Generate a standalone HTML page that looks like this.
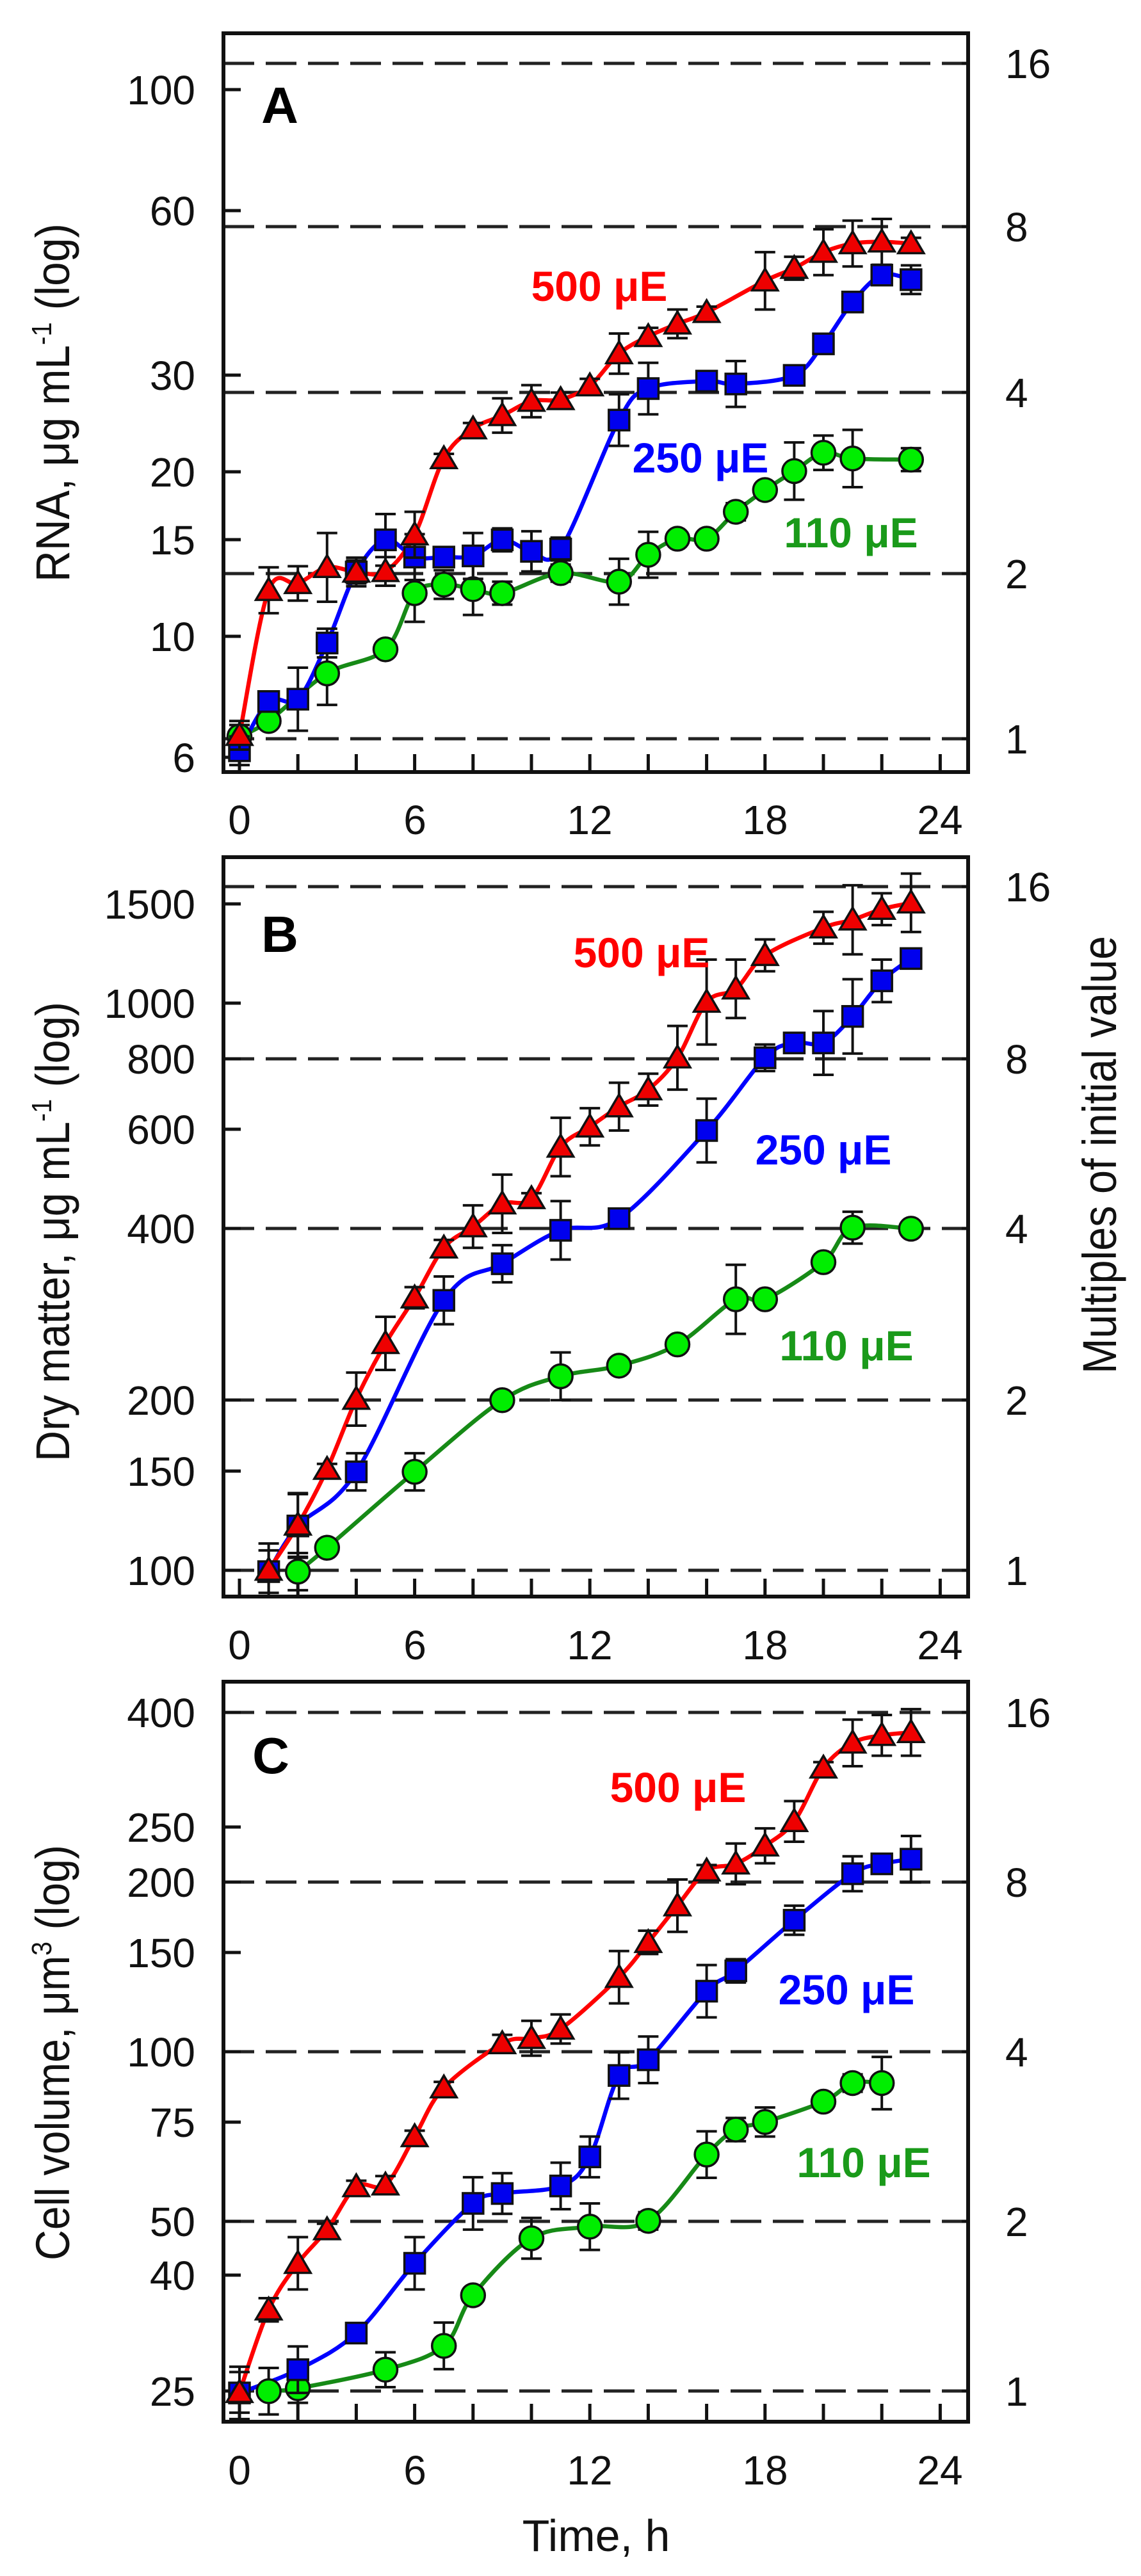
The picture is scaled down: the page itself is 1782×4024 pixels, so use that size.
<!DOCTYPE html>
<html><head><meta charset="utf-8"><style>
html,body{margin:0;padding:0;background:#fff;}
svg{display:block;}
text{font-family:"Liberation Sans",sans-serif;}
</style></head><body>
<svg id="s" width="1782" height="4024" viewBox="0 0 1782 4024" xmlns="http://www.w3.org/2000/svg">
<rect width="1782" height="4024" fill="#fff"/>
<g id="plots"></g>
<g font-size="64" fill="#111">
<g text-anchor="end">
<text x="305" y="163">100</text><text x="305" y="352">60</text><text x="305" y="609">30</text>
<text x="305" y="760">20</text><text x="305" y="866">15</text><text x="305" y="1017">10</text><text x="305" y="1206">6</text>
<text x="305" y="1435">1500</text><text x="305" y="1590">1000</text><text x="305" y="1677">800</text><text x="305" y="1787">600</text>
<text x="305" y="1942">400</text><text x="305" y="2210">200</text><text x="305" y="2321">150</text><text x="305" y="2476">100</text>
<text x="305" y="2698">400</text><text x="305" y="2877">250</text><text x="305" y="2963">200</text><text x="305" y="3073">150</text>
<text x="305" y="3228">100</text><text x="305" y="3338">75</text><text x="305" y="3493">50</text><text x="305" y="3577">40</text><text x="305" y="3758">25</text>
</g>
<g text-anchor="start">
<text x="1570" y="122">16</text><text x="1570" y="377">8</text><text x="1570" y="636">4</text><text x="1570" y="919">2</text><text x="1570" y="1177">1</text>
<text x="1570" y="1408">16</text><text x="1570" y="1677">8</text><text x="1570" y="1942">4</text><text x="1570" y="2210">2</text><text x="1570" y="2476">1</text>
<text x="1570" y="2698">16</text><text x="1570" y="2963">8</text><text x="1570" y="3228">4</text><text x="1570" y="3493">2</text><text x="1570" y="3758">1</text>
</g>
<g text-anchor="middle">
<text x="374" y="1303">0</text><text x="648" y="1303">6</text><text x="921" y="1303">12</text><text x="1195" y="1303">18</text><text x="1468" y="1303">24</text>
<text x="374" y="2592">0</text><text x="648" y="2592">6</text><text x="921" y="2592">12</text><text x="1195" y="2592">18</text><text x="1468" y="2592">24</text>
<text x="374" y="3881">0</text><text x="648" y="3881">6</text><text x="921" y="3881">12</text><text x="1195" y="3881">18</text><text x="1468" y="3881">24</text>
<text x="931" y="3985" font-size="70">Time, h</text>
</g>
<g font-size="74">
<text transform="translate(108,909) rotate(-90)" textLength="560" lengthAdjust="spacingAndGlyphs">RNA, μg mL<tspan font-size="44" dy="-28">-1</tspan><tspan dy="28"> (log)</tspan></text>
<text transform="translate(108,2283) rotate(-90)" textLength="718" lengthAdjust="spacingAndGlyphs">Dry matter, μg mL<tspan font-size="44" dy="-28">-1</tspan><tspan dy="28"> (log)</tspan></text>
<text transform="translate(108,3531) rotate(-90)" textLength="649" lengthAdjust="spacingAndGlyphs">Cell volume, μm<tspan font-size="44" dy="-28">3</tspan><tspan dy="28"> (log)</tspan></text>
<text transform="translate(1743,2146) rotate(-90)" textLength="684" lengthAdjust="spacingAndGlyphs">Multiples of initial value</text>
</g>
<g font-weight="bold" font-size="66" text-anchor="middle">
<text x="437" y="192" fill="#000" font-size="80">A</text>
<text x="437" y="1487" fill="#000" font-size="80">B</text>
<text x="423" y="2770" fill="#000" font-size="80">C</text>
<text x="936" y="470" fill="#f00">500 μE</text>
<text x="1094" y="738" fill="#00f">250 μE</text>
<text x="1329" y="855" fill="#1a9a1a">110 μE</text>
<text x="1002" y="1511" fill="#f00">500 μE</text>
<text x="1286" y="1819" fill="#00f">250 μE</text>
<text x="1322" y="2125" fill="#1a9a1a">110 μE</text>
<text x="1059" y="2815" fill="#f00">500 μE</text>
<text x="1322" y="3131" fill="#00f">250 μE</text>
<text x="1349" y="3401" fill="#1a9a1a">110 μE</text>
</g>
</g>
</svg>
<script>
var NS="http://www.w3.org/2000/svg";
var G=document.getElementById("plots");
function el(t,a){var e=document.createElementNS(NS,t);for(var k in a)e.setAttribute(k,a[k]);G.appendChild(e);return e;}
function X(t){return 374+t*45.6;}
var panels=[
 {top:52,bot:1206,off:0,s:1.117,ticks:[140,329,586,737,843,994,1183],dash:[99,354,613,896,1154],
  R:[[0,1283,25],[1,1030,40],[2,1018,30],[3,990,60],[4,998,20],[5,997,25],[6,933,40],[7,800,8],[8,748,10],[9,725,30],[10,700,28],[11,697,12],[12,673,12],[13,617,35],[14,587,15],[15,565,25],[16,545,10],[18,490,50],[19,468,20],[20,440,40],[21,425,40],[22,422,40],[23,425,10]],
  B:[[0,1310,25],[1,1224,10],[2,1220,55],[3,1122,25],[4,998,25],[5,942,45],[6,972,40],[7,972,15],[8,970,40],[9,942,20],[10,962,35],[11,958,20],[13,733,45],[14,678,45],[16,665,10],[17,670,40],[19,655,15],[20,600,10],[21,527,10],[22,480,10],[23,488,25]],
  Gr:[[0,1285,20],[1,1258,10],[3,1175,55],[5,1133,0],[6,1035,50],[7,1020,25],[8,1028,45],[9,1035,20],[11,1000,15],[13,1015,40],[14,968,40],[15,940,10],[16,940,10],[17,893,15],[18,855,10],[19,822,50],[20,790,30],[21,800,50],[23,802,20]]},
 {top:1339,bot:2494,off:1300,s:1.206,ticks:[1412,1567,1654,1764,1919,2187,2298,2453],dash:[1385,1654,1919,2187,2453],
  R:[[1,1390,50],[2,1305,60],[3,1200,10],[4,1068,50],[5,963,50],[6,877,20],[7,783,15],[8,743,40],[9,700,55],[10,690,10],[11,593,55],[12,555,35],[13,517,45],[14,485,30],[15,425,60],[16,320,80],[17,295,55],[18,232,30],[20,180,30],[21,165,65],[22,145,30],[23,133,55]],
  B:[[1,1393,40],[2,1307,60],[4,1205,35],[7,882,45],[9,813,35],[11,750,55],[13,728,10],[16,562,60],[18,425,25],[19,397,10],[20,397,60],[21,347,70],[22,280,40],[23,238,10]],
  Gr:[[2,1393,35],[3,1348,10],[6,1205,35],[9,1070,10],[11,1025,45],[13,1005,10],[15,965,10],[17,880,65],[18,880,10],[20,810,10],[21,745,30],[23,747,10]]},
 {top:2627,bot:3783,off:2600,s:1.101,ticks:[2675,2854,2940,3050,3205,3315,3470,3554,3735],dash:[2675,2940,3205,3470,3735],
  R:[[0,1252,35],[1,1110,20],[2,1030,45],[3,972,10],[4,898,10],[5,895,15],[6,812,10],[7,728,10],[9,652,15],[10,643,30],[11,627,25],[13,538,45],[14,478,20],[15,415,45],[16,355,10],[17,343,35],[18,312,30],[19,270,35],[20,178,10],[21,135,40],[22,122,35],[23,117,40]],
  B:[[0,1253,45],[2,1213,40],[4,1150,10],[6,1030,45],[8,927,45],[9,910,35],[11,897,40],[12,847,35],[13,707,40],[14,680,40],[16,562,45],[17,527,20],[19,440,25],[21,360,30],[22,343,10],[23,335,40]],
  Gr:[[1,1250,40],[2,1245,25],[5,1213,30],[7,1172,40],[8,1085,10],[10,987,35],[12,967,40],[14,957,15],[16,843,40],[17,800,20],[18,787,25],[20,752,10],[21,720,15],[22,720,45]]}
];
function spline(p){var d="M"+p[0][0]+","+p[0][1];for(var i=0;i<p.length-1;i++){var p0=p[i-1]||p[i],p1=p[i],p2=p[i+1],p3=p[i+2]||p2;
 var c1x=p1[0]+(p2[0]-p0[0])/6,c1y=p1[1]+(p2[1]-p0[1])/6,c2x=p2[0]-(p3[0]-p1[0])/6,c2y=p2[1]-(p3[1]-p1[1])/6;
 d+=" C"+c1x+","+c1y+" "+c2x+","+c2y+" "+p2[0]+","+p2[1];}return d;}
panels.forEach(function(P){
 P.dash.forEach(function(y){el("line",{x1:349,x2:1512,y1:y,y2:y,stroke:"#222","stroke-width":5,"stroke-dasharray":"48,18"});});
 P.ticks.forEach(function(y){el("line",{x1:347,x2:376,y1:y,y2:y,stroke:"#111","stroke-width":5});});
 for(var t=0;t<=24;t+=2){el("line",{x1:X(t),x2:X(t),y1:P.bot,y2:P.bot-28,stroke:"#111","stroke-width":5});}
 P.dash.forEach(function(y){el("line",{x1:1502,x2:1512,y1:y,y2:y,stroke:"#111","stroke-width":5});});
 var series=[[P.Gr,"#168a16","c","#00ee00"],[P.B,"#0000ff","s","#0000ee"],[P.R,"#ff0000","t","#ee0000"]];
 series.forEach(function(S){
  var pts=S[0].map(function(a){return [X(a[0]),P.off+a[1]/P.s];});
  el("path",{d:spline(pts),fill:"none",stroke:S[1],"stroke-width":6.5});
 });
 series.forEach(function(S){
  S[0].forEach(function(a){var x=X(a[0]),y=P.off+a[1]/P.s,e=a[2]/P.s;
   if(e>0){el("line",{x1:x,x2:x,y1:y-e,y2:y+e,stroke:"#111","stroke-width":4});
    el("line",{x1:x-16,x2:x+16,y1:y-e,y2:y-e,stroke:"#111","stroke-width":4});
    el("line",{x1:x-16,x2:x+16,y1:y+e,y2:y+e,stroke:"#111","stroke-width":4});}
   if(S[2]=="c")el("circle",{cx:x,cy:y,r:18.5,fill:S[3],stroke:"#111","stroke-width":3.5});
   else if(S[2]=="s")el("rect",{x:x-16,y:y-16,width:32,height:32,fill:S[3],stroke:"#111","stroke-width":3.5});
   else el("polygon",{points:(x-20)+","+(y+15)+" "+(x+20)+","+(y+15)+" "+x+","+(y-19),fill:S[3],stroke:"#111","stroke-width":3.5});
  });
 });
 el("rect",{x:349,y:P.top,width:1163,height:P.bot-P.top,fill:"none",stroke:"#111","stroke-width":6});
});
</script>
</body></html>
